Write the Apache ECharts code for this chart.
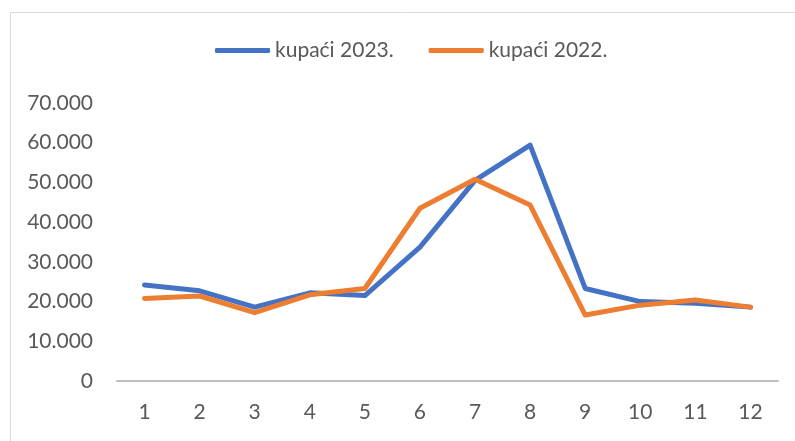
<!DOCTYPE html>
<html>
<head>
<meta charset="utf-8">
<script src="https://cdn.jsdelivr.net/npm/echarts@6/dist/echarts.min.js"></script>
<style>
  html, body { margin: 0; padding: 0; background: #fff; }
  #chart { width: 795px; height: 441px; }
</style>
</head>
<body>
<div id="chart"></div>
<script>
  // kategorije (mjeseci) i vrijednosti
  var months = ['1', '2', '3', '4', '5', '6', '7', '8', '9', '10', '11', '12'];
  var kupci2023 = [24200, 22700, 18600, 22200, 21500, 33700, 50500, 59400, 23300, 20000, 19600, 18600];
  var kupci2022 = [20800, 21400, 17200, 21700, 23300, 43500, 50800, 44300, 16600, 19100, 20400, 18600];
  var yTicks = { min: 0, max: 70000, interval: 10000 };

  var font = 'Lato, "Open Sans", sans-serif';
  var txtColor = '#595959';

  function fmt(v) {
    // 10000 -> 10.000
    return String(v).replace(/\B(?=(\d{3})+(?!\d))/g, '.');
  }

  var myChart = echarts.init(document.getElementById('chart'));
  var option = {
    animation: false,
    graphic: [{
      type: 'rect',
      shape: { x: 10.5, y: 12.5, width: 800, height: 440 },
      style: { fill: 'none', stroke: '#d9d9d9', lineWidth: 1 },
      silent: true
    }],
    legend: {
      left: 210,
      top: 35,
      itemWidth: 55,
      itemHeight: 5,
      itemGap: 35,
      icon: 'roundRect',
      textStyle: { fontFamily: font, fontSize: 21, color: txtColor },
      data: ['kupaći 2023.', 'kupaći 2022.']
    },
    grid: { left: 117, right: 17, top: 103, bottom: 60 },
    xAxis: {
      type: 'category',
      data: months,
      boundaryGap: true,
      axisLine: { lineStyle: { color: '#bfbfbf', width: 2 } },
      axisTick: { show: false },
      axisLabel: { fontFamily: font, fontSize: 21, color: txtColor, margin: 21 },
      splitLine: { show: false }
    },
    yAxis: {
      type: 'value',
      min: yTicks.min,
      max: yTicks.max,
      interval: yTicks.interval,
      axisLine: { show: false },
      axisTick: { show: false },
      splitLine: { show: false },
      axisLabel: { fontFamily: font, fontSize: 21, color: txtColor, margin: 24, formatter: fmt }
    },
    series: [{
      name: 'kupaći 2023.',
      type: 'line',
      data: kupci2023,
      symbol: 'none',
      lineStyle: { color: '#4472c4', width: 5, cap: 'round', join: 'round' },
      itemStyle: { color: '#4472c4' }
    }, {
      name: 'kupaći 2022.',
      type: 'line',
      data: kupci2022,
      symbol: 'none',
      lineStyle: { color: '#ed7d31', width: 5, cap: 'round', join: 'round' },
      itemStyle: { color: '#ed7d31' }
    }]
  };
  myChart.setOption(option);
</script>
</body>
</html>
